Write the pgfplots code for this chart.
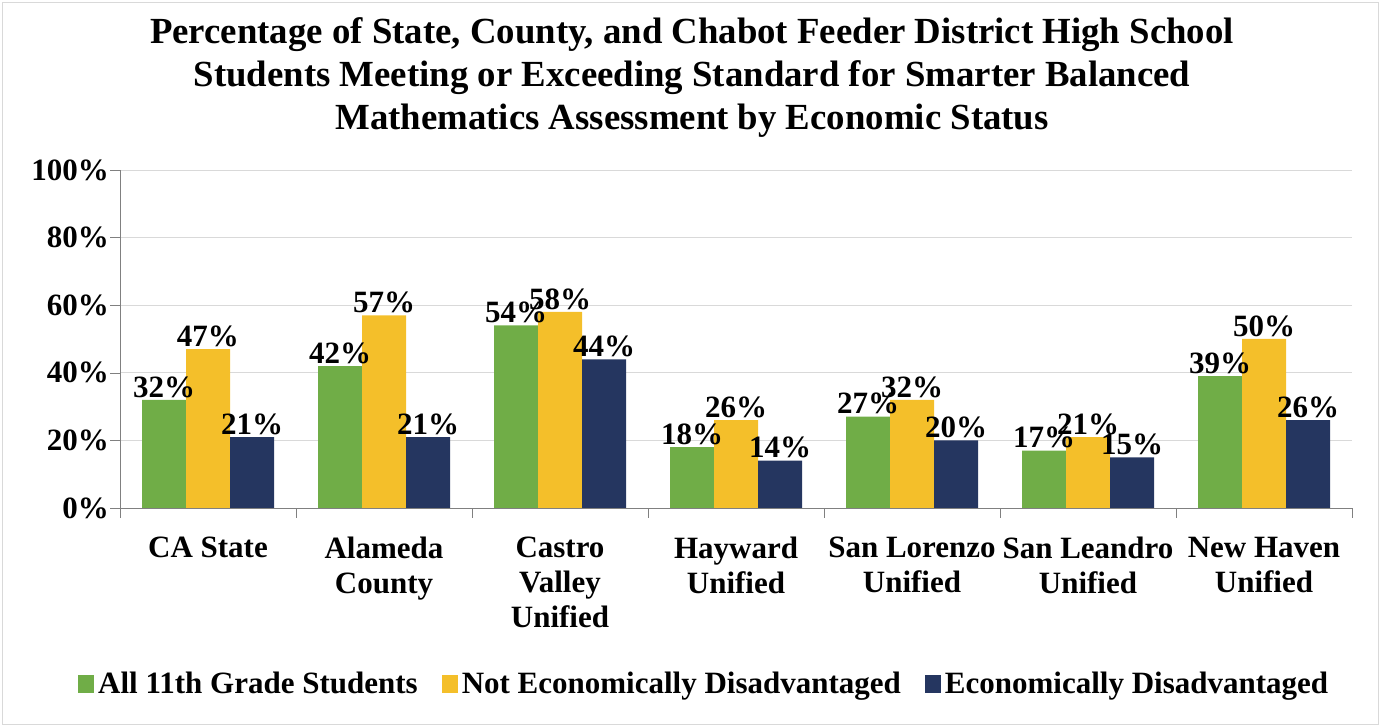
\documentclass[border=0pt]{standalone}
\usepackage{pgfplots}
\pgfplotsset{compat=1.18}
\usepackage{fontspec}
\setmainfont{Liberation Serif}
\definecolor{cgreen}{HTML}{70AD47}
\definecolor{cyellow}{HTML}{F4BF2A}
\definecolor{cnavy}{HTML}{253660}
\definecolor{cgrid}{HTML}{D9D9D9}
\begin{document}
\begin{tikzpicture}
\useasboundingbox (0,0) rectangle (690pt,363pt);
\draw[cgrid] (1pt,1pt) rectangle (689pt,362pt);
\node[font=\bfseries\fontsize{18.4}{21.5}\selectfont, align=center] at (346pt,324pt)
  {Percentage of State, County, and Chabot Feeder District High School\\
   Students Meeting or Exceeding Standard for Smarter Balanced\\
   Mathematics Assessment by Economic Status};
\begin{axis}[
    at={(60pt,109pt)}, anchor=south west,
    width=616pt, height=169pt, scale only axis,
    ybar=0pt, bar width=0.25,
    xmin=-0.5, xmax=6.5,
    ymin=0, ymax=100,
    ytick={0,20,...,100},
    yticklabel={\pgfmathprintnumber{\tick}\%},
    xtick={0,...,6},
    xticklabels={CA State, Alameda\\County, Castro\\Valley\\Unified, Hayward\\Unified,
      San Lorenzo\\Unified, San Leandro\\Unified, New Haven\\Unified},
    xticklabel style={align=center, font=\bfseries\fontsize{15.5}{17.5}\selectfont, yshift=-6pt},
    yticklabel style={font=\bfseries\fontsize{15.5}{17}\selectfont, xshift=3pt},
    /pgf/number format/assume math mode=true,
    major x tick style={draw=none},
    minor xtick={-0.5,0.5,...,6.5},
    minor x tick style={draw=gray, thin},
    tick align=outside,
    major tick length=5pt, minor tick length=5pt,
    y tick style={draw=gray},
    axis x line*=bottom, axis y line*=left,
    axis line style={draw=gray, thin},
    ymajorgrids, grid style={cgrid},
    nodes near coords={\pgfmathprintnumber{\pgfplotspointmeta}\%},
    nodes near coords style={font=\bfseries\fontsize{15.5}{17}\selectfont, inner sep=1pt},
    legend style={at={(0.475,-0.46)}, anchor=north, draw=none, legend columns=-1,
      font=\bfseries\fontsize{15.5}{17}\selectfont,
      /tikz/every even column/.append style={column sep=10pt}},
    legend image code/.code={\fill[#1] (0pt,-4.5pt) rectangle (8pt,4.5pt);},
  ]
\addplot[fill=cgreen, draw=none] coordinates {(0,32)(1,42)(2,54)(3,18)(4,27)(5,17)(6,39)};
\addplot[fill=cyellow, draw=none] coordinates {(0,47)(1,57)(2,58)(3,26)(4,32)(5,21)(6,50)};
\addplot[fill=cnavy, draw=none] coordinates {(0,21)(1,21)(2,44)(3,14)(4,20)(5,15)(6,26)};
\legend{All 11th Grade Students, Not Economically Disadvantaged, Economically Disadvantaged}
\end{axis}
\end{tikzpicture}
\end{document}
